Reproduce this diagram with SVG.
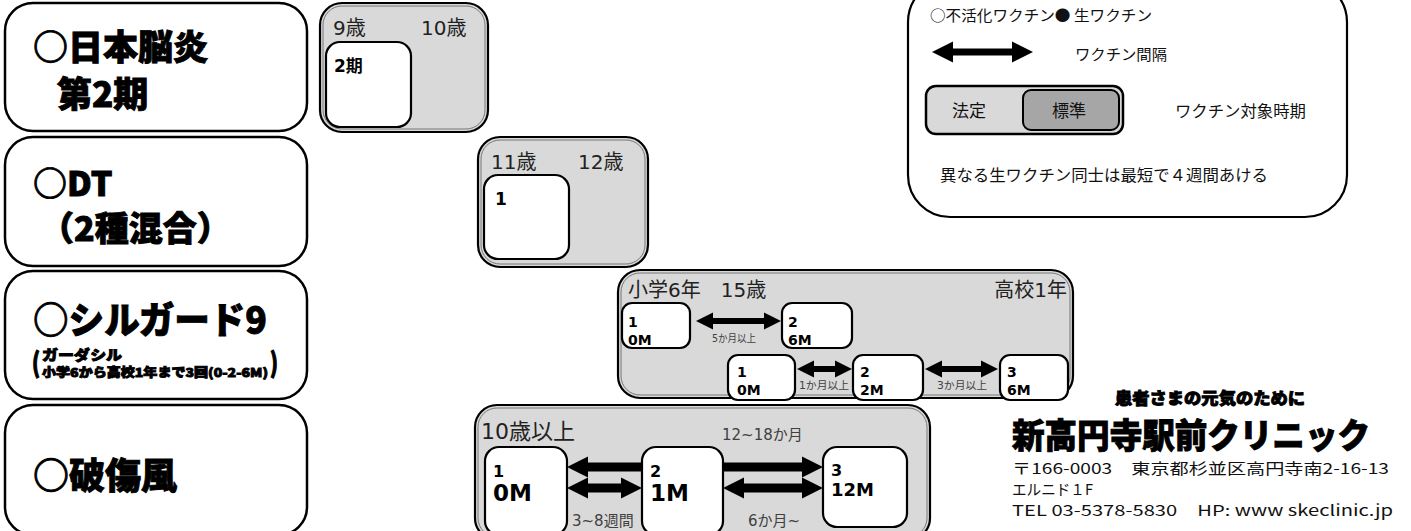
<svg xmlns="http://www.w3.org/2000/svg" width="1411" height="531" viewBox="0 0 1411 531">
<defs>
<style>
.vbox{fill:#fff;stroke:#000;stroke-width:2.5}
.pop{font-family:"Noto Sans CJK JP","Noto Sans CJK SC",sans-serif;font-weight:900;fill:#000;stroke:#000;stroke-width:0.9}
.panel{fill:#d9d9d9;stroke:#000;stroke-width:2.2}
.pin{fill:none;stroke:#777;stroke-width:1}
.dose{fill:#fff;stroke:#000;stroke-width:2.2}
.t{font-family:"DejaVu Sans","Noto Sans CJK JP",sans-serif;fill:#222}
.b{font-family:"DejaVu Sans","Noto Sans CJK JP",sans-serif;font-weight:bold;fill:#000}
.lab{font-family:"DejaVu Sans","Noto Sans CJK JP",sans-serif;fill:#404040}
.j{font-family:"Noto Sans CJK JP","DejaVu Sans",sans-serif;fill:#111}
.arr{stroke:#000;fill:none}
</style>
<marker id="ah" viewBox="0 0 10 10" refX="0" refY="5" markerUnits="userSpaceOnUse" markerWidth="21" markerHeight="23" orient="auto-start-reverse"><path d="M0,0 L10,5 L0,10 z" fill="#000"/></marker>
<marker id="ahs" viewBox="0 0 10 10" refX="0" refY="5" markerUnits="userSpaceOnUse" markerWidth="17" markerHeight="18" orient="auto-start-reverse"><path d="M0,0 L10,5 L0,10 z" fill="#000"/></marker>
</defs>
<rect width="1411" height="531" fill="#fff"/>

<!-- vaccine name boxes -->
<g id="je2">
<rect class="vbox" x="5" y="3" width="302" height="128" rx="28"/>
<text class="pop" x="33" y="60" font-size="35">○日本脳炎</text>
<text class="pop" x="57" y="107" font-size="35">第2期</text>
</g>
<g id="dt">
<rect class="vbox" x="5" y="137" width="302" height="129" rx="28"/>
<text class="pop" x="33" y="196" font-size="34">○DT</text>
<text class="pop" x="40" y="241" font-size="34">（2種混合）</text>
</g>
<g id="silgard">
<rect class="vbox" x="5" y="271" width="302" height="128" rx="28"/>
<text class="pop" x="33" y="334" font-size="37" textLength="234" lengthAdjust="spacingAndGlyphs">○シルガード9</text>
<text class="pop" transform="translate(32,373) scale(1,1.35)" font-size="20" stroke-width="0.4" font-weight="bold">(</text>
<text class="pop" x="42" y="360" font-size="14" stroke-width="0.4" textLength="80" lengthAdjust="spacingAndGlyphs">ガーダシル</text>
<text class="pop" x="42" y="377" font-size="12" stroke-width="0.3" textLength="226" lengthAdjust="spacingAndGlyphs">小学6から高校1年まで3回(0-2-6M)</text>
<text class="pop" transform="translate(270,373) scale(1,1.35)" font-size="20" stroke-width="0.4" font-weight="bold">)</text>
</g>
<g id="tetanus">
<rect class="vbox" x="5" y="405" width="302" height="130" rx="28"/>
<text class="pop" x="33" y="489" font-size="36">○破傷風</text>
</g>

<!-- age panels -->
<g id="panel-je">
<rect class="panel" x="320" y="3" width="168" height="129" rx="22"/>
<rect class="pin" x="323" y="6" width="162" height="123" rx="19"/>
<text class="t" x="333" y="35" font-size="20">9歳</text>
<text class="t" x="421" y="35" font-size="20">10歳</text>
</g>
<g id="panel-dt">
<rect class="panel" x="478" y="137" width="170" height="130" rx="22"/>
<rect class="pin" x="481" y="140" width="164" height="124" rx="19"/>
<text class="t" x="491" y="169" font-size="20">11歳</text>
<text class="t" x="578" y="169" font-size="20">12歳</text>
</g>
<g id="panel-hpv">
<rect class="panel" x="618" y="270" width="455" height="128" rx="22"/>
<rect class="pin" x="621" y="273" width="449" height="122" rx="19"/>
<text class="t" x="628" y="297" font-size="20">小学6年　15歳</text>
<text class="t" x="1067" y="297" font-size="20" text-anchor="end">高校1年</text>
</g>
<g id="panel-tet">
<rect class="panel" x="475" y="405" width="455" height="135" rx="22"/>
<rect class="pin" x="478" y="408" width="449" height="129" rx="19"/>
<text class="t" x="481" y="439" font-size="22">10歳以上</text>
</g>

<!-- legend -->
<g id="legend">
<rect x="908" y="-20" width="439" height="237" rx="42" fill="#fff" stroke="#000" stroke-width="2.2"/>
<text class="j" x="930" y="21" font-size="15" textLength="222" lengthAdjust="spacingAndGlyphs">○不活化ワクチン● 生ワクチン</text>
<text class="j" x="1075" y="60" font-size="15" textLength="92" lengthAdjust="spacingAndGlyphs">ワクチン間隔</text>
<rect x="926" y="86" width="197" height="48" rx="10" fill="#d9d9d9" stroke="#000" stroke-width="2.5"/>
<rect x="1023" y="90" width="96" height="40" rx="8" fill="#a6a6a6" stroke="#000" stroke-width="2"/>
<text class="j" x="952" y="117" font-size="17">法定</text>
<text class="j" x="1052" y="117" font-size="17">標準</text>
<text class="j" x="1175" y="117" font-size="16" textLength="131" lengthAdjust="spacingAndGlyphs">ワクチン対象時期</text>
<text class="j" x="940" y="181" font-size="16" textLength="328" lengthAdjust="spacingAndGlyphs">異なる生ワクチン同士は最短で４週間あける</text>
</g>

<!-- connectors -->
<g id="connectors">
<line class="arr" x1="953" y1="52" x2="1012" y2="52" stroke-width="7" marker-start="url(#ah)" marker-end="url(#ah)"/>
<line class="arr" x1="713" y1="321" x2="764" y2="321" stroke-width="6" marker-start="url(#ahs)" marker-end="url(#ahs)"/>
<line class="arr" x1="814" y1="369" x2="835" y2="369" stroke-width="6" marker-start="url(#ahs)" marker-end="url(#ahs)"/>
<line class="arr" x1="942" y1="369" x2="981" y2="369" stroke-width="6" marker-start="url(#ahs)" marker-end="url(#ahs)"/>
<line class="arr" x1="588" y1="467" x2="802" y2="467" stroke-width="9" marker-start="url(#ah)" marker-end="url(#ah)"/>
<line class="arr" x1="588" y1="488" x2="621" y2="488" stroke-width="9" marker-start="url(#ah)" marker-end="url(#ah)"/>
<line class="arr" x1="744" y1="488" x2="802" y2="488" stroke-width="9" marker-start="url(#ah)" marker-end="url(#ah)"/>
<text class="lab" x="712" y="342" font-size="10.5" textLength="44" lengthAdjust="spacingAndGlyphs">5か月以上</text>
<text class="lab" x="799" y="389" font-size="10.5" textLength="50" lengthAdjust="spacingAndGlyphs">1か月以上</text>
<text class="lab" x="937" y="389" font-size="10.5" textLength="50" lengthAdjust="spacingAndGlyphs">3か月以上</text>
<text class="lab" x="722" y="440" font-size="15">12~18か月</text>
<text class="lab" x="572" y="526" font-size="15">3~8週間</text>
<text class="lab" x="748" y="526" font-size="15">6か月~</text>
</g>

<!-- dose boxes -->
<g id="je-dose"><rect class="dose" x="326" y="42" width="85" height="85" rx="14"/><text class="b" x="334" y="72" font-size="17">2期</text></g>
<g id="dt-dose"><rect class="dose" x="484" y="175" width="85" height="84" rx="14"/><text class="b" x="495" y="205" font-size="17">1</text></g>
<g id="hpv2-1"><rect class="dose" x="622" y="303" width="68" height="45" rx="10"/><text class="b" x="628" y="327" font-size="14">1</text><text class="b" x="628" y="345" font-size="14">0M</text></g>
<g id="hpv2-2"><rect class="dose" x="782" y="303" width="70" height="45" rx="10"/><text class="b" x="788" y="327" font-size="14">2</text><text class="b" x="788" y="345" font-size="14">6M</text></g>
<g id="hpv3-1"><rect class="dose" x="728" y="355" width="67" height="45" rx="10"/><text class="b" x="737" y="377" font-size="14">1</text><text class="b" x="737" y="395" font-size="14">0M</text></g>
<g id="hpv3-2"><rect class="dose" x="853" y="355" width="70" height="45" rx="10"/><text class="b" x="860" y="377" font-size="14">2</text><text class="b" x="860" y="395" font-size="14">2M</text></g>
<g id="hpv3-3"><rect class="dose" x="1000" y="355" width="68" height="45" rx="10"/><text class="b" x="1007" y="377" font-size="14">3</text><text class="b" x="1007" y="395" font-size="14">6M</text></g>
<g id="tet-1"><rect class="dose" x="485" y="447" width="82" height="88" rx="14"/><text class="b" x="493" y="477" font-size="16">1</text><text class="b" x="493" y="501" font-size="23">0M</text></g>
<g id="tet-2"><rect class="dose" x="642" y="447" width="81" height="88" rx="14"/><text class="b" x="650" y="477" font-size="16">2</text><text class="b" x="650" y="501" font-size="23">1M</text></g>
<g id="tet-3"><rect class="dose" x="823" y="447" width="84" height="80" rx="14"/><text class="b" x="831" y="476" font-size="16">3</text><text class="b" x="831" y="496" font-size="18">12M</text></g>

<!-- clinic -->
<g id="clinic">
<text class="pop" x="1115" y="404" font-size="16" stroke-width="0.3" textLength="190" lengthAdjust="spacingAndGlyphs">患者さまの元気のために</text>
<text class="pop" x="1012" y="448" font-size="34" stroke-width="1.2" textLength="358" lengthAdjust="spacingAndGlyphs">新高円寺駅前クリニック</text>
<text class="j" x="1012" y="474" font-size="15" textLength="377" lengthAdjust="spacingAndGlyphs">〒166-0003　東京都杉並区高円寺南2-16-13</text>
<text class="j" x="1012" y="495" font-size="15" textLength="81" lengthAdjust="spacingAndGlyphs">エルニド１F</text>
<text class="j" x="1012" y="516" font-size="15" textLength="381" lengthAdjust="spacingAndGlyphs">TEL 03-5378-5830　HP: www skeclinic.jp</text>
</g>
</svg>
